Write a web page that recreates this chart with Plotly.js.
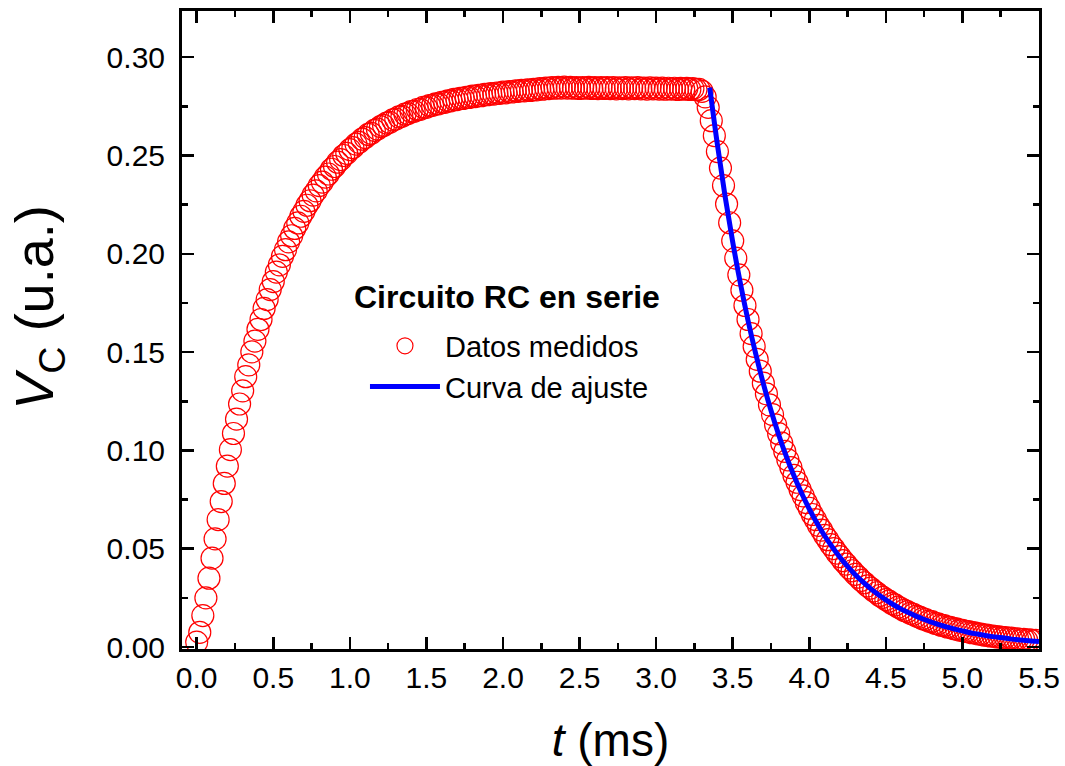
<!DOCTYPE html>
<html>
<head>
<meta charset="utf-8">
<script src="https://cdn.plot.ly/plotly-3.0.1.min.js"></script>
<style>
html,body{margin:0;padding:0;background:#fff;}
#chart{width:1065px;height:766px;}
</style>
</head>
<body>
<div id="chart"></div>
<script>
// Measured data: time (ms)
const tData = [
0.00,0.02,0.04,0.06,0.08,0.10,0.12,0.14,0.16,0.18,0.20,0.22,0.24,0.26,0.28,0.30,0.32,0.34,0.36,0.38,0.40,0.42,0.44,0.46,0.48,
0.50,0.52,0.54,0.56,0.58,0.60,0.62,0.64,0.66,0.68,0.70,0.72,0.74,0.76,0.78,0.80,0.82,0.84,0.86,0.88,0.90,0.92,0.94,0.96,0.98,
1.00,1.02,1.04,1.06,1.08,1.10,1.12,1.14,1.16,1.18,1.20,1.22,1.24,1.26,1.28,1.30,1.32,1.34,1.36,1.38,1.40,1.42,1.44,1.46,1.48,
1.50,1.52,1.54,1.56,1.58,1.60,1.62,1.64,1.66,1.68,1.70,1.72,1.74,1.76,1.78,1.80,1.82,1.84,1.86,1.88,1.90,1.92,1.94,1.96,1.98,
2.00,2.02,2.04,2.06,2.08,2.10,2.12,2.14,2.16,2.18,2.20,2.22,2.24,2.26,2.28,2.30,2.32,2.34,2.36,2.38,2.40,2.42,2.44,2.46,2.48,
2.50,2.52,2.54,2.56,2.58,2.60,2.62,2.64,2.66,2.68,2.70,2.72,2.74,2.76,2.78,2.80,2.82,2.84,2.86,2.88,2.90,2.92,2.94,2.96,2.98,
3.00,3.02,3.04,3.06,3.08,3.10,3.12,3.14,3.16,3.18,3.20,3.22,3.24,3.26,3.28,3.30,3.32,3.34,3.36,3.38,3.40,3.42,3.44,3.46,3.48,
3.50,3.52,3.54,3.56,3.58,3.60,3.62,3.64,3.66,3.68,3.70,3.72,3.74,3.76,3.78,3.80,3.82,3.84,3.86,3.88,3.90,3.92,3.94,3.96,3.98,
4.00,4.02,4.04,4.06,4.08,4.10,4.12,4.14,4.16,4.18,4.20,4.22,4.24,4.26,4.28,4.30,4.32,4.34,4.36,4.38,4.40,4.42,4.44,4.46,4.48,
4.50,4.52,4.54,4.56,4.58,4.60,4.62,4.64,4.66,4.68,4.70,4.72,4.74,4.76,4.78,4.80,4.82,4.84,4.86,4.88,4.90,4.92,4.94,4.96,4.98,
5.00,5.02,5.04,5.06,5.08,5.10,5.12,5.14,5.16,5.18,5.20,5.22,5.24,5.26,5.28,5.30,5.32,5.34,5.36,5.38,5.40,5.42,5.44,5.46,5.48
];
// Measured data: capacitor voltage (u.a.)
const vData = [
0.0025,0.0075,0.0160,0.0250,0.0350,0.0452,0.0550,0.0648,0.0740,0.0832,0.0920,0.1004,0.1086,0.1159,0.1236,0.1303,0.1375,0.1435,0.1501,0.1556,0.1616,0.1666,0.1722,0.1767,0.1818,
0.1859,0.1907,0.1944,0.1987,0.2021,0.2061,0.2092,0.2129,0.2157,0.2191,0.2216,0.2247,0.2270,0.2299,0.2320,0.2347,0.2365,0.2390,0.2406,0.2430,0.2444,0.2466,0.2479,0.2500,0.2511,
0.2530,0.2540,0.2558,0.2567,0.2583,0.2591,0.2607,0.2613,0.2628,0.2634,0.2647,0.2653,0.2665,0.2669,0.2681,0.2685,0.2697,0.2699,0.2710,0.2713,0.2723,0.2725,0.2734,0.2735,0.2745,
0.2745,0.2754,0.2755,0.2763,0.2763,0.2771,0.2770,0.2778,0.2778,0.2785,0.2784,0.2791,0.2790,0.2796,0.2795,0.2802,0.2800,0.2806,0.2804,0.2811,0.2809,0.2815,0.2812,0.2818,0.2816,
0.2822,0.2819,0.2825,0.2823,0.2829,0.2826,0.2831,0.2829,0.2834,0.2831,0.2836,0.2834,0.2840,0.2837,0.2843,0.2840,0.2846,0.2842,0.2847,0.2843,0.2848,0.2843,0.2847,0.2842,0.2846,
0.2841,0.2846,0.2842,0.2847,0.2841,0.2845,0.2840,0.2846,0.2841,0.2845,0.2840,0.2845,0.2839,0.2844,0.2840,0.2845,0.2839,0.2844,0.2840,0.2845,0.2839,0.2843,0.2838,0.2844,0.2839,
0.2843,0.2838,0.2843,0.2837,0.2842,0.2838,0.2842,0.2836,0.2841,0.2837,0.2841,0.2836,0.2840,0.2835,0.2836,0.2826,0.2798,0.2745,0.2677,0.2601,0.2520,0.2436,0.2347,0.2253,0.2158,
0.2066,0.1978,0.1893,0.1815,0.1737,0.1666,0.1594,0.1529,0.1463,0.1403,0.1342,0.1288,0.1232,0.1182,0.1130,0.1085,0.1037,0.0995,0.0952,0.0913,0.0873,0.0838,0.0801,0.0769,0.0735,
0.0706,0.0674,0.0648,0.0619,0.0595,0.0568,0.0546,0.0521,0.0501,0.0478,0.0460,0.0439,0.0422,0.0403,0.0388,0.0370,0.0356,0.0339,0.0327,0.0311,0.0300,0.0286,0.0276,0.0262,0.0253,
0.0241,0.0233,0.0221,0.0214,0.0203,0.0196,0.0186,0.0180,0.0171,0.0166,0.0157,0.0152,0.0144,0.0140,0.0132,0.0129,0.0121,0.0118,0.0111,0.0109,0.0102,0.0100,0.0094,0.0092,0.0086,
0.0085,0.0079,0.0078,0.0073,0.0072,0.0067,0.0066,0.0061,0.0061,0.0056,0.0056,0.0052,0.0052,0.0048,0.0048,0.0044,0.0045,0.0040,0.0042,0.0037,0.0039,0.0034,0.0036,0.0031,0.0034
];
// Fit curve
const tFit = [3.35,3.40,3.45,3.50,3.55,3.60,3.65,3.70,3.75,3.80,3.85,3.90,3.95,4.00,4.05,4.10,4.15,4.20,4.25,4.30,4.35,4.40,4.45,4.50,4.55,4.60,4.65,4.70,4.75,4.80,4.85,4.90,4.95,5.00,5.05,5.10,5.15,5.20,5.25,5.30,5.35,5.40,5.45,5.50];
const vFit = [0.2845,0.2555,0.2294,0.2060,0.1850,0.1661,0.1492,0.1340,0.1203,0.1080,0.0970,0.0871,0.0782,0.0702,0.0631,0.0566,0.0509,0.0457,0.0410,0.0368,0.0331,0.0297,0.0267,0.0240,0.0215,0.0193,0.0174,0.0156,0.0140,0.0126,0.0113,0.0101,0.0091,0.0082,0.0073,0.0066,0.0059,0.0053,0.0048,0.0043,0.0038,0.0034,0.0031,0.0028];
// Labels
const seriesNames = ["Datos medidos", "Curva de ajuste"];
const legendTitle = "Circuito RC en serie";
const xTitle = "<i>t</i> (ms)";
const yTitle = "&nbsp;&nbsp;&nbsp;<i>V</i><sub>C</sub> (u.a.)";

const FONT = "Liberation Sans, Arial, sans-serif";

const traces = [
  {
    x: tData, y: vData, type: "scatter", mode: "markers", name: seriesNames[0],
    marker: {symbol: "circle-open", size: 22, color: "#ff0000", line: {color: "#ff0000", width: 1.2}},
    cliponaxis: true
  },
  {
    x: tFit, y: vFit, type: "scatter", mode: "lines", name: seriesNames[1],
    line: {color: "#0000ff", width: 5, shape: "spline"}
  }
];

const axisCommon = {
  showline: true, linecolor: "#000", linewidth: 3, mirror: "allticks",
  ticks: "inside", ticklen: 12, tickwidth: 2.5, tickcolor: "#000",
  showgrid: false, zeroline: false,
  tickfont: {family: FONT, size: 30, color: "#000"}
};

const layout = {
  width: 1065, height: 766,
  margin: {l: 182, r: 26, t: 11, b: 117},
  paper_bgcolor: "#fff", plot_bgcolor: "#fff",
  showlegend: true,
  xaxis: Object.assign({}, axisCommon, {
    range: [-0.096, 5.5], dtick: 0.5, tick0: 0, tickformat: ".1f",
    ticklabelstandoff: 0,
    minor: {dtick: 0.25, ticks: "inside", ticklen: 6, tickwidth: 2.5, tickcolor: "#000", showgrid: false},
    title: {text: xTitle, font: {family: FONT, size: 46, color: "#000"}, standoff: 32}
  }),
  yaxis: Object.assign({}, axisCommon, {
    range: [-0.001, 0.3235], dtick: 0.05, tick0: 0, tickformat: ".2f",
    ticklabelstandoff: 8,
    minor: {dtick: 0.025, ticks: "inside", ticklen: 6, tickwidth: 2.5, tickcolor: "#000", showgrid: false},
    title: {text: yTitle, font: {family: FONT, size: 54, color: "#000"}, standoff: 36}
  }),
  legend: {
    x: 0.2135, y: 0.515, xanchor: "left", yanchor: "top",
    bgcolor: "rgba(0,0,0,0)", borderwidth: 0,
    font: {family: FONT, size: 29, color: "#000"},
    itemwidth: 70, tracegroupgap: 0
  },
  annotations: [{
    text: "<b>" + legendTitle + "</b>", xref: "paper", yref: "paper",
    x: 0.198, y: 0.552, xanchor: "left", yanchor: "middle", showarrow: false,
    font: {family: FONT, size: 32, color: "#000"}
  }]
};

Plotly.newPlot("chart", traces, layout, {displayModeBar: false, staticPlot: true});
</script>
</body>
</html>
